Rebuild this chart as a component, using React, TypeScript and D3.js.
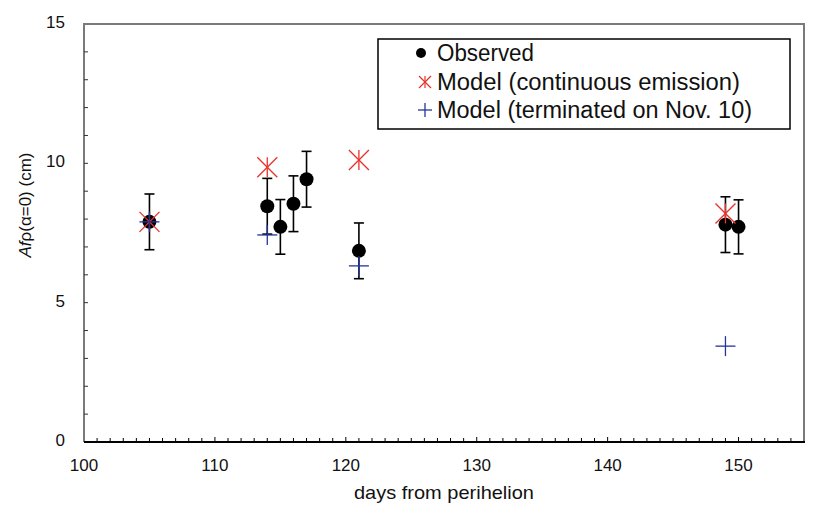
import * as d3 from "d3";

// days from perihelion and Afρ values
const obsDays = [105, 114, 115, 116, 117, 121, 149, 150];
const obsValues = [7.9, 8.46, 7.72, 8.55, 9.43, 6.86, 7.8, 7.72];
const obsErrors = [1.0, 1.0, 0.98, 1.0, 1.0, 1.0, 1.0, 0.97];

const contDays = [105, 114, 121, 149];
const contValues = [7.9, 9.86, 10.12, 8.2];

const termDays = [105, 114, 121, 149];
const termValues = [7.9, 7.43, 6.32, 3.44];

const xTicks = [100, 110, 120, 130, 140, 150];
const yTicks = [0, 5, 10, 15];

const legendLabels = [
  "Observed",
  "Model (continuous emission)",
  "Model (terminated on Nov. 10)",
];
const legendWidths = [97, 303, 315];

const RED = "#e8332b";
const BLUE = "#24349c";
const FONT = "'Liberation Sans', Arial, Helvetica, sans-serif";

const Asterisk = ({ x, y, s, w = 1.3 }: { x: number; y: number; s: number; w?: number }) => (
  <g stroke={RED} strokeWidth={w}>
    <line x1={x - s} y1={y - s} x2={x + s} y2={y + s} />
    <line x1={x - s} y1={y + s} x2={x + s} y2={y - s} />
    <line x1={x} y1={y - s} x2={x} y2={y + s} />
  </g>
);

const Plus = ({ x, y, s }: { x: number; y: number; s: number }) => (
  <g stroke={BLUE} strokeWidth={1.3}>
    <line x1={x - s} y1={y} x2={x + s} y2={y} />
    <line x1={x} y1={y - s} x2={x} y2={y + s} />
  </g>
);

export default function App() {
  const width = 830;
  const height = 514;
  const left = 84;
  const right = 804;
  const top = 24;
  const bottom = 442;

  const x = d3.scaleLinear().domain([100, 155]).range([left, right]);
  const y = d3.scaleLinear().domain([0, 15]).range([bottom, top]);

  const xMinor = d3.range(101, 155);
  const yMinor = d3.range(1, 15);

  const legX = 378;
  const legY = 39;
  const rowBase = [61, 90, 118];

  return (
    <svg
      width={width}
      height={height}
      style={{ position: "absolute", left: 0, top: 0, background: "#fff" }}
      fontFamily={FONT}
    >
      {/* frame */}
      <path
        d={`M${left},${bottom} V${top} H${right} V${bottom}`}
        fill="none"
        stroke="#7a7a7a"
        strokeWidth={2}
      />
      <line x1={left} x2={right + 1} y1={bottom} y2={bottom} stroke="#000" strokeWidth={2} />

      {/* x ticks */}
      {xMinor.map(d => (
        <line
          key={"xt" + d}
          x1={x(d)}
          x2={x(d)}
          y1={bottom}
          y2={bottom - (d % 10 === 0 ? 5 : 4)}
          stroke="#000"
          strokeWidth={1}
        />
      ))}
      {xTicks.map(d => (
        <text key={"xl" + d} x={x(d)} y={471} fontSize={17} textAnchor="middle" fill="#111">
          {d}
        </text>
      ))}

      {/* y ticks */}
      {yMinor.map(d => (
        <line
          key={"yt" + d}
          x1={left}
          x2={left + 4}
          y1={y(d)}
          y2={y(d)}
          stroke="#333"
          strokeWidth={1}
        />
      ))}
      {yTicks.map(d => (
        <text key={"yl" + d} x={65} y={y(d) + 4} fontSize={17} textAnchor="end" fill="#111">
          {d}
        </text>
      ))}

      {/* axis titles */}
      <text
        x={444}
        y={499}
        fontSize={19}
        textAnchor="middle"
        fill="#111"
        textLength={180}
        lengthAdjust="spacingAndGlyphs"
      >
        days from perihelion
      </text>
      <text
        transform="translate(31,205) rotate(-90)"
        fontSize={17}
        textAnchor="middle"
        fill="#111"
      >
        <tspan fontStyle="italic">Af</tspan>ρ(α=0) (cm)
      </text>

      {/* error bars and observed points */}
      {obsDays.map((d, i) => {
        const cx = x(d);
        const y1 = y(obsValues[i] + obsErrors[i]);
        const y2 = y(obsValues[i] - obsErrors[i]);
        return (
          <g key={"eb" + i} stroke="#000" strokeWidth={1.6}>
            <line x1={cx} x2={cx} y1={y1} y2={y2} />
            <line x1={cx - 5} x2={cx + 5} y1={y1} y2={y1} />
            <line x1={cx - 5} x2={cx + 5} y1={y2} y2={y2} />
          </g>
        );
      })}
      {obsDays.map((d, i) => (
        <circle key={"ob" + i} cx={x(d)} cy={y(obsValues[i])} r={7} fill="#000" />
      ))}

      {/* model: continuous emission */}
      {contDays.map((d, i) => (
        <Asterisk key={"cm" + i} x={x(d)} y={y(contValues[i])} s={10} />
      ))}

      {/* model: terminated */}
      {termDays.map((d, i) => (
        <Plus key={"tm" + i} x={x(d)} y={y(termValues[i])} s={10} />
      ))}

      {/* legend */}
      <rect x={legX} y={legY} width={412} height={90} fill="#fff" stroke="#000" strokeWidth={1.5} />
      <circle cx={421} cy={rowBase[0] - 8} r={5} fill="#000" />
      <Asterisk x={425} y={rowBase[1] - 8} s={6} w={1.2} />
      <Plus x={425} y={rowBase[2] - 8} s={7} />
      {legendLabels.map((t, i) => (
        <text
          key={"lg" + i}
          x={437}
          y={rowBase[i]}
          fontSize={23}
          fill="#111"
          textLength={legendWidths[i]}
          lengthAdjust="spacingAndGlyphs"
        >
          {t}
        </text>
      ))}
    </svg>
  );
}
